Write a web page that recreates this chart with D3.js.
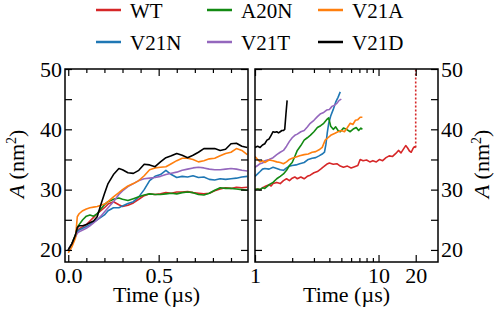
<!DOCTYPE html>
<html>
<head>
<meta charset="utf-8">
<script src="https://cdn.jsdelivr.net/npm/d3@7"></script>
</head>
<body style="margin:0">
<svg id="chart" width="498" height="314"></svg>
<script>
// ---- data ----
const names = ["WT", "V21N", "A20N", "V21T", "V21A", "V21D"];
const colors = ["#d62728", "#1f77b4", "#138a13", "#9467bd", "#ff7f0e", "#000000"];

// left panel: 0 - 1 us, common time grid
const tLeft = [0, 0.02, 0.04, 0.05, 0.06, 0.08, 0.10, 0.12, 0.14, 0.16, 0.18, 0.20, 0.22, 0.25, 0.28, 0.30,
  0.33, 0.36, 0.39, 0.42, 0.45, 0.48, 0.51, 0.54, 0.57, 0.60, 0.63, 0.66, 0.69, 0.72, 0.75, 0.78, 0.81,
  0.84, 0.87, 0.90, 0.93, 0.96, 0.99];
const leftWT = [20, 21, 22.3, 23.2, 23.5, 23.8, 24.2, 24.8, 25.4, 26, 26.5, 27, 27.6, 28, 27.5, 27.2,
  27.4, 27.8, 28.4, 29, 29.3, 29.2, 29.3, 29.5, 29.4, 29.6, 29.6, 29.7, 29.5, 29.4, 29.3, 29.4, 29.8,
  30.1, 30.3, 30.2, 30.4, 30.3, 30.4];
const leftV21N = [20, 21, 22.3, 23, 23.3, 23.6, 23.9, 24.2, 24.6, 25, 25.4, 25.8, 26.5, 27, 27, 27.3,
  27.7, 28, 28.8, 30, 31.5, 32.2, 32.5, 33.2, 32.5, 32, 32.2, 32.1, 32.3, 32, 32.1, 31.7, 31.6,
  31.8, 31.7, 31.8, 31.9, 32.1, 32.2];
const leftA20N = [20, 21, 22.5, 23.8, 24.2, 25, 25.6, 25.8, 25.6, 26, 26.8, 27.5, 28, 28.4, 28.6, 28.4,
  28.2, 28.5, 28.8, 29.1, 29.3, 29.2, 29.2, 29.3, 29.4, 29.3, 29.5, 29.6, 29.5, 29.2, 29.1, 29.4, 29.9,
  30.3, 30.2, 30.2, 30.1, 30, 29.9];
const leftV21T = [20, 21, 22.2, 22.8, 23, 23.3, 23.6, 24, 24.5, 25, 25.6, 26.3, 27, 28, 29.2, 29.8,
  30.5, 31, 31.5, 31.8, 31.9, 32, 32.2, 32.5, 32.7, 32.9, 33.2, 33.4, 33.6, 33.7, 33.6, 33.4, 33.3,
  33.3, 33.4, 33.5, 33.4, 33.2, 33.1];
const leftV21A = [19.5, 20.5, 22, 25.5, 26, 26.5, 26.8, 27, 27.1, 27.2, 27.4, 27.6, 28, 28.8, 29.5, 30,
  30.6, 31, 31.5, 32.3, 33.3, 33.6, 33.7, 33.8, 34.3, 34.8, 35.2, 35.2, 35, 34.6, 34.8, 35.1, 35.2,
  35.6, 36, 36.2, 36.8, 36.5, 35.8];
const leftV21D = [20, 21, 22.5, 23.7, 24, 24, 24.2, 24.5, 24.8, 25.5, 27.5, 29.3, 31, 32.5, 33.5, 33.3,
  32.8, 32.7, 33.2, 34.2, 34.1, 33.8, 34.6, 35.3, 35.6, 36, 35.7, 35.3, 35.7, 36.2, 36.8, 36.8, 36.8,
  36.5, 36.7, 37.6, 37.7, 37.2, 37];

// right panel: 1 - 20 us, log time
const tWT = [1, 1.05, 1.1, 1.15, 1.2, 1.3, 1.35, 1.4, 1.5, 1.6, 1.7, 1.8, 1.9, 2.0, 2.1, 2.2, 2.35, 2.5,
  2.65, 2.8, 3.0, 3.2, 3.4, 3.6, 3.8, 4.0, 4.3, 4.6, 4.9, 5.2, 5.6, 6.0, 6.4, 6.8, 7.1, 7.5, 8.0, 8.5,
  9.0, 9.6, 10.2, 10.8, 11.5, 12.2, 13, 13.8, 14.5, 15.2, 16, 16.6, 17.2, 17.8, 18.4, 19, 19.5, 20];
const rightWT = [30, 30.1, 30, 30.3, 30.5, 30.8, 30.6, 31, 31.2, 31, 31.5, 31.8, 31.5, 31.9, 32.1, 31.8,
  32.1, 31.8, 32.2, 32.4, 32.8, 33, 33.4, 33.8, 34.2, 34.4, 34.2, 34.3, 33.9, 33.7, 33.9, 33.6, 33.8,
  34, 35, 34.8, 34.9, 34.6, 34.8, 34.6, 35, 34.8, 35.3, 35.6, 35.5, 36, 36.5, 36.1, 36.8, 37.3, 36.9,
  36.4, 36.2, 36.8, 37.1, 37];
const tV21N = [1, 1.05, 1.1, 1.15, 1.2, 1.3, 1.4, 1.5, 1.6, 1.7, 1.8, 1.9, 2.0, 2.15, 2.3, 2.5, 2.7,
  2.9, 3.1, 3.3, 3.5, 3.65, 3.75, 3.85, 3.95, 4.1, 4.3, 4.5, 4.7, 4.9];
const rightV21N = [32.2, 32.6, 33, 33.4, 33.5, 33.4, 33.7, 33.5, 33.3, 33.2, 33.6, 33.9, 34, 34.1, 34.3,
  34.5, 35, 35.2, 35.3, 35.6, 35.9, 36.2, 37.5, 39.5, 41, 42.2, 43.3, 44.5, 45.3, 46.2];
const tA20N = [1, 1.05, 1.1, 1.15, 1.2, 1.3, 1.4, 1.5, 1.6, 1.7, 1.8, 1.9, 2.0, 2.1, 2.2, 2.35, 2.5,
  2.65, 2.8, 3.0, 3.2, 3.4, 3.6, 3.8, 3.95, 4.1, 4.3, 4.5, 4.7, 4.9, 5.2, 5.5, 5.9, 6.3, 6.6, 6.9, 7.2, 7.4];
const rightA20N = [30, 30.1, 30, 30.3, 30.2, 30.8, 31.2, 31.8, 32.2, 32.6, 33.2, 34, 34.5, 35.5, 36.5,
  37.3, 38.2, 38.6, 39, 39.6, 40.3, 40.6, 41, 41.6, 41.9, 40.5, 40, 40.4, 39.8, 39.6, 40.2, 40, 39.6,
  40.1, 40.3, 39.8, 40.2, 40];
const tV21T = [1, 1.05, 1.1, 1.15, 1.2, 1.3, 1.4, 1.5, 1.6, 1.7, 1.8, 1.9, 2.0, 2.1, 2.2, 2.35, 2.5,
  2.65, 2.8, 3.0, 3.2, 3.4, 3.6, 3.8, 4.0, 4.2, 4.4, 4.6, 4.8, 5.0];
const rightV21T = [33.7, 34, 34.3, 34.4, 34.8, 35, 35.3, 35.8, 36.2, 36.5, 37.2, 38, 38.6, 39, 39.2,
  39.6, 39.8, 40.4, 41, 41.5, 42.1, 42.6, 42.8, 43.2, 43.3, 43.8, 44, 44.3, 44.8, 45];
const tV21A = [1, 1.05, 1.1, 1.15, 1.2, 1.3, 1.4, 1.5, 1.6, 1.7, 1.8, 1.9, 2.0, 2.15, 2.3, 2.5, 2.7,
  2.9, 3.1, 3.3, 3.5, 3.7, 3.9, 4.1, 4.4, 4.7, 5.0, 5.3, 5.6, 5.9, 6.2, 6.5, 6.8, 7.1, 7.4];
const rightV21A = [35.5, 35, 34.6, 34.8, 34.5, 34.9, 34.8, 34.6, 34.5, 34.3, 34.6, 35, 35.2, 35.4, 35.6,
  35.8, 35.9, 36.2, 36.3, 36.6, 37, 38.2, 38.6, 39, 39.3, 39.6, 39.8, 39.6, 40.3, 41, 40.8, 41.5, 41.6,
  42, 42];
const tV21D = [1, 1.05, 1.1, 1.15, 1.2, 1.25, 1.3, 1.35, 1.4, 1.45, 1.5, 1.55, 1.6, 1.65, 1.7, 1.74, 1.78, 1.82];
const rightV21D = [37, 37.2, 37, 37.4, 37.6, 38.2, 38.4, 39, 39.6, 39.5, 39.6, 39.4, 39.6, 39.8, 39.8,
  40, 42.5, 44.8];

// WT dotted jump at the end of its run
const jumpT = [20, 20];
const jumpA = [37, 50];

// axis ticks
const yMajor = [20, 30, 40, 50];
const yMinor = [25, 35, 45];
const xLeftMajor = [0, 0.5];
const xLeftMinor = [0.1, 0.2, 0.3, 0.4, 0.6, 0.7, 0.8, 0.9];
const xRightMajor = [1, 10, 20];
const xRightMinor = [2, 3, 4, 5, 6, 7, 8, 9];

const leftValues = [leftWT, leftV21N, leftA20N, leftV21T, leftV21A, leftV21D];
const rightTimes = [tWT, tV21N, tA20N, tV21T, tV21A, tV21D];
const rightValues = [rightWT, rightV21N, rightA20N, rightV21T, rightV21A, rightV21D];

// ---- layout ----
const svg = d3.select("#chart");
const panelTop = 69, ph = 193, pw = 183;
const leftX0 = 65, rightX0 = 255;
const serif = '"Liberation Serif"';
const tickFont = 22, legendFont = 21;

const y = d3.scaleLinear().domain([18, 50]).range([ph, 0]);
const xL = d3.scaleLinear().domain([-0.018, 0.994]).range([0, pw]);
const xR = d3.scaleLog().domain([1, 30.3]).range([0, pw]);

svg.append("defs").append("clipPath").attr("id", "clip")
  .append("rect").attr("width", pw).attr("height", ph);

function drawPanel(x0, x, majors, minors, fmt, lines, yLabelsRight) {
  const g = svg.append("g").attr("transform", `translate(${x0},${panelTop})`);

  const line = d3.line().x(d => x(d[0])).y(d => y(d[1]));
  const plot = g.append("g").attr("clip-path", "url(#clip)");
  lines.forEach(l => {
    plot.append("path")
      .attr("d", line(l.pts))
      .attr("fill", "none")
      .attr("stroke", l.color)
      .attr("stroke-width", 1.6)
      .attr("stroke-dasharray", l.dash || null)
      .attr("stroke-linejoin", "round");
  });

  // ticks on all four sides, pointing inwards
  const axes = [
    [d3.axisBottom(x).tickValues(majors).tickSize(-7).tickPadding(5).tickFormat(fmt), `translate(0,${ph})`],
    [d3.axisBottom(x).tickValues(minors).tickSize(-4).tickFormat(""), `translate(0,${ph})`],
    [d3.axisTop(x).tickValues(majors).tickSize(-7).tickFormat(""), null],
    [d3.axisTop(x).tickValues(minors).tickSize(-4).tickFormat(""), null],
    [d3.axisLeft(y).tickValues(yMajor).tickSize(-7).tickPadding(3).tickFormat(yLabelsRight ? "" : d3.format("d")), null],
    [d3.axisLeft(y).tickValues(yMinor).tickSize(-7).tickFormat(""), null],
    [d3.axisRight(y).tickValues(yMajor).tickSize(-7).tickPadding(3).tickFormat(yLabelsRight ? d3.format("d") : ""), `translate(${pw},0)`],
    [d3.axisRight(y).tickValues(yMinor).tickSize(-7).tickFormat(""), `translate(${pw},0)`]
  ];
  axes.forEach(a => {
    const ag = g.append("g").attr("transform", a[1]).call(a[0]);
    ag.attr("font-family", null).attr("font-size", null);
    ag.select(".domain").remove();
    ag.selectAll("line").attr("stroke", "#000").attr("stroke-width", 1.2);
    ag.selectAll("text")
      .style("font-family", serif)
      .attr("font-size", tickFont)
      .attr("fill", "#000");
  });

  g.append("rect").attr("width", pw).attr("height", ph)
    .attr("fill", "none").attr("stroke", "#000").attr("stroke-width", 1.5);

  g.append("text")
    .attr("x", pw / 2).attr("y", ph + 40)
    .attr("text-anchor", "middle")
    .style("font-family", serif)
    .attr("font-size", tickFont)
    .text("Time (\u00b5s)");
  return g;
}

const leftLines = names.map((n, i) => ({
  color: colors[i],
  pts: tLeft.map((t, j) => [t, leftValues[i][j]])
}));
drawPanel(leftX0, xL, xLeftMajor, xLeftMinor, d3.format(".1f"), leftLines, false);

const rightLines = names.map((n, i) => ({
  color: colors[i],
  pts: rightTimes[i].map((t, j) => [t, rightValues[i][j]])
}));
rightLines.push({ color: colors[0], dash: "2,2", pts: jumpT.map((t, j) => [t, jumpA[j]]) });
drawPanel(rightX0, xR, xRightMajor, xRightMinor, d3.format("d"), rightLines, true);

// y labels, A (nm^2), both read bottom to top
function yLabel(x) {
  const t = svg.append("text")
    .attr("transform", `translate(${x},164) rotate(-90)`)
    .attr("text-anchor", "middle")
    .style("font-family", serif)
    .attr("font-size", tickFont);
  t.append("tspan").style("font-style", "italic").text("A");
  t.append("tspan").text(" (nm");
  t.append("tspan").attr("font-size", 14).attr("dy", -8).text("2");
  t.append("tspan").attr("dy", 8).text(")");
}
yLabel(24);
yLabel(489);

// legend, 3 columns x 2 rows
const legendOrder = ["WT", "A20N", "V21A", "V21N", "V21T", "V21D"];
const colX = [96, 207, 318];
const rowY = [10, 42];
legendOrder.forEach((n, k) => {
  const i = names.indexOf(n);
  const lx = colX[k % 3], ly = rowY[Math.floor(k / 3)];
  svg.append("line")
    .attr("x1", lx).attr("x2", lx + 25).attr("y1", ly).attr("y2", ly)
    .attr("stroke", colors[i]).attr("stroke-width", 2.5);
  svg.append("text")
    .attr("x", lx + 34).attr("y", ly + 8)
    .style("font-family", serif)
    .attr("font-size", legendFont)
    .text(n);
});
</script>
</body>
</html>
